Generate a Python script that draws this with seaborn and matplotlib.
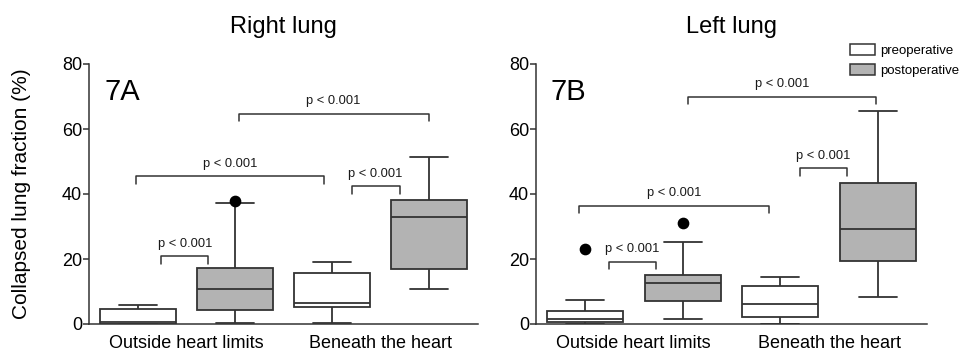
import matplotlib
matplotlib.use("Agg")
import matplotlib.pyplot as plt
from matplotlib.patches import Patch
import seaborn as sns
import pandas as pd

# ---------------- data ----------------
regions = ["Outside heart limits", "Beneath the heart"]
periods = ["preoperative", "postoperative"]

# Right lung (7A): order = [pre-outside, post-outside, pre-beneath, post-beneath]
right_low = [0.0, 0.3, 0.2, 10.8]
right_q1 = [0.0, 4.2, 5.2, 16.9]
right_med = [0.5, 10.8, 6.5, 32.8]
right_q3 = [4.6, 17.2, 15.7, 38.3]
right_high = [5.7, 37.1, 19.0, 51.4]
right_outliers = {("Outside heart limits", "postoperative"): [38.0]}

# Left lung (7B)
left_low = [0.0, 1.6, 0.0, 8.2]
left_q1 = [0.5, 7.1, 2.2, 19.4]
left_med = [1.4, 12.6, 6.1, 29.1]
left_q3 = [4.0, 15.2, 11.7, 43.3]
left_high = [7.4, 25.1, 14.4, 65.4]
left_outliers = {("Outside heart limits", "preoperative"): [23.0],
                 ("Outside heart limits", "postoperative"): [31.2]}

p_label = "p < 0.001"
# brackets: (x_left, x_right, y) in data units
right_brackets = [(-0.128, 0.113, 20.8), (-0.26, 0.708, 45.5),
                  (0.27, 1.246, 64.7), (0.85, 1.097, 42.4)]
left_brackets = [(-0.128, 0.112, 19.2), (-0.28, 0.69, 36.4),
                 (0.276, 1.24, 70.0), (0.85, 1.09, 47.9)]

groups = [(r, p) for r in regions for p in periods]


def build_df(low, q1, med, q3, high):
    rows = []
    for i, (r, p) in enumerate(groups):
        for v in (low[i], q1[i], med[i], q3[i], high[i]):
            rows.append({"region": r, "period": p, "value": v})
    return pd.DataFrame(rows)


sns.set_style("ticks")
plt.rcParams["font.family"] = ["Liberation Sans", "DejaVu Sans"]
plt.rcParams["text.color"] = "black"

fig = plt.figure(figsize=(9.59, 3.56), dpi=100)
ax1 = fig.add_axes([89 / 959, 1 - 324 / 356, 389 / 959, 260 / 356])
ax2 = fig.add_axes([536 / 959, 1 - 324 / 356, 391 / 959, 260 / 356])

edge = "#333333"
gray = "#b3b3b3"
palette = {"preoperative": "white", "postoperative": gray}
offsets = {"preoperative": -0.25, "postoperative": 0.25}

panels = [
    (ax1, build_df(right_low, right_q1, right_med, right_q3, right_high),
     right_outliers, right_brackets, "Right lung", "7A", 0.041),
    (ax2, build_df(left_low, left_q1, left_med, left_q3, left_high),
     left_outliers, left_brackets, "Left lung", "7B", 0.036),
]

for ax, df, outl, brackets, title, tag, tagx in panels:
    sns.boxplot(data=df, x="region", y="value", hue="period",
                order=regions, hue_order=periods, palette=palette,
                width=1.0, gap=0.22, whis=(0, 100), showfliers=False,
                linewidth=1.3, linecolor=edge, legend=False, ax=ax)
    for (r, p), vals in outl.items():
        xs = [regions.index(r) + offsets[p]] * len(vals)
        ax.scatter(xs, vals, s=55, color="black", zorder=5, clip_on=False)
    for xl, xr, y in brackets:
        ax.plot([xl, xl, xr, xr], [y - 2.3, y, y, y - 2.3], color=edge,
                lw=1.1, clip_on=False, zorder=4)
        ax.text((xl + xr) / 2, y + 3.8, p_label, ha="center", va="center",
                fontsize=9.3, color="#1a1a1a")
    ax.set_xlim(-0.5, 1.5)
    ax.set_ylim(0, 80)
    ax.set_yticks([0, 20, 40, 60, 80])
    ax.set_xlabel("")
    ax.set_ylabel("")
    sns.despine(ax=ax)
    for s in ("left", "bottom"):
        ax.spines[s].set_linewidth(1.1)
        ax.spines[s].set_color(edge)
    ax.tick_params(axis="y", labelsize=13, length=4, width=1.1,
                   color=edge, pad=1, labelcolor="black")
    ax.tick_params(axis="x", labelsize=13, length=0, pad=8,
                   labelcolor="black")
    ax.set_title(title, fontsize=17, pad=22, color="black")
    ax.text(tagx, 0.892, tag, transform=ax.transAxes, fontsize=21,
            ha="left", va="center", color="black")

fig.text(22 / 959, 1 - 194 / 356, "Collapsed lung fraction (%)",
         rotation=90, ha="center", va="center", fontsize=15, color="black")

handles = [Patch(facecolor="white", edgecolor=edge, linewidth=1.1),
           Patch(facecolor=gray, edgecolor=edge, linewidth=1.1)]
fig.legend(handles, periods, loc="upper left",
           bbox_to_anchor=(850 / 959, 1 - 44 / 356), frameon=False,
           fontsize=9.5, handlelength=1.9, handleheight=0.85,
           handletextpad=0.35, labelspacing=0.55, borderpad=0,
           borderaxespad=0)

fig.savefig("out.png", dpi=100)
